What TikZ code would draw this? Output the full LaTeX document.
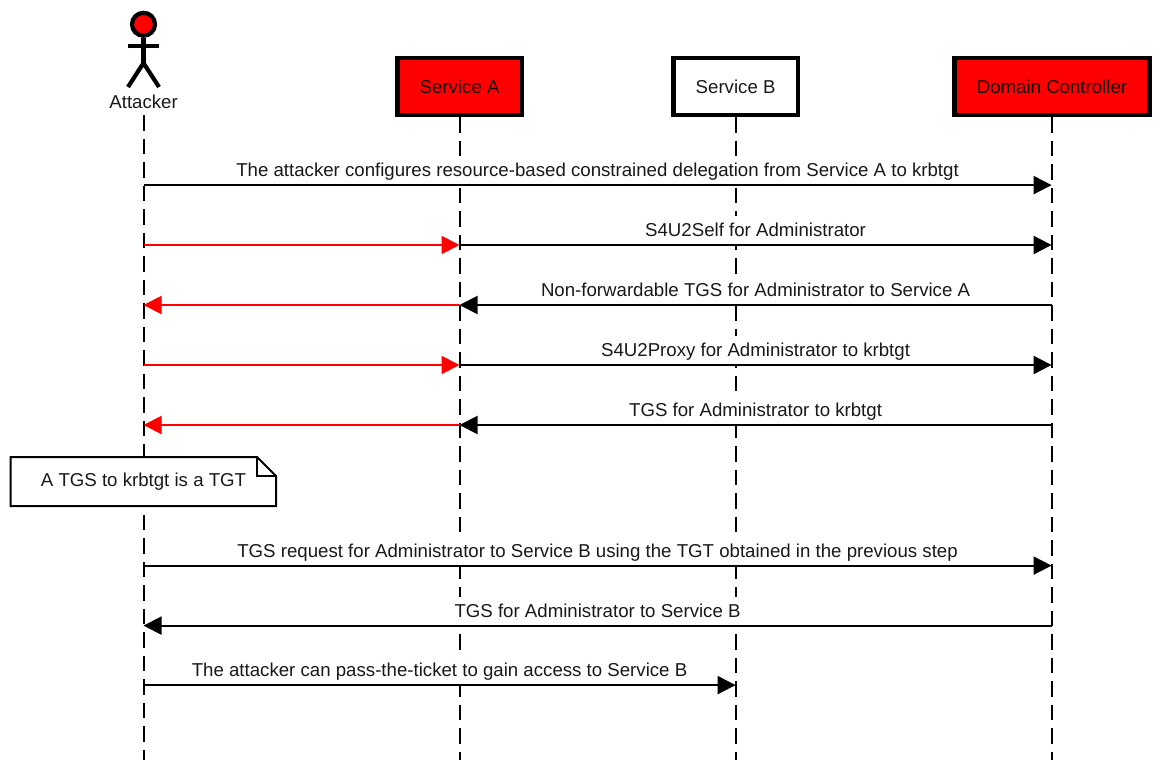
\documentclass[tikz,border=0pt]{standalone}
\usepackage{fontspec}
\setmainfont{Liberation Sans}
\usetikzlibrary{arrows.meta,calc}
\definecolor{hotred}{RGB}{255,0,0}
\tikzset{
  base font/.style={font=\fontsize{18.65}{21}\selectfont},
  lifebox/.style={draw=black,line width=4.5pt,base font,inner sep=0pt,text=black!90,minimum height=56.5pt,text height=14pt,text depth=0pt},
  redbox/.style={lifebox,fill=hotred,text=black!90!red},
  lifeline/.style={line width=2pt,dash pattern=on 15.67pt off 7.83pt},
  msg/.style={line width=2pt,-{Triangle[length=18pt,width=18pt]}},
  redmsg/.style={msg,draw=hotred,-{Triangle[length=18pt,width=18pt,fill=hotred]}},
  msglabel/.style={base font,fill=white,inner sep=0pt,text height=20.4pt,text depth=7.6pt,anchor=south,pos=.5,text=black!90},
  actor/.style={line width=4.2pt,line cap=butt},
  notebox/.style={draw=black,line width=2pt,fill=white,line join=miter}
}
\begin{document}
\begin{tikzpicture}[x=1pt,y=-1pt]
\useasboundingbox[fill=white] (0,0) rectangle (1160,760);

% participants
\node[redbox,minimum width=124.5pt] (svcA) at (459.6,86.5) {Service A};
\node[lifebox,fill=white,minimum width=124.5pt] (svcB) at (735.6,86.5) {Service B};
\node[redbox,minimum width=195pt] (dc) at (1052,86.5) {Domain Controller};
\node[base font,inner sep=0pt,text=black!90,text height=14pt,text depth=4pt] (attacker) at (143.6,103.2) {Attacker};

% bottom ends of lifelines
\coordinate (attackerEnd) at (143.5,760);
\coordinate (svcAEnd) at (459.5,760);
\coordinate (svcBEnd) at (735.6,760);
\coordinate (dcEnd) at (1051.6,760);

% lifelines
\coordinate (attackerTop) at (143.5,115);
\draw[lifeline] (attackerTop) -- (attackerEnd);
\draw[lifeline] (svcA.south -| svcAEnd) -- (svcAEnd);
\draw[lifeline] (svcB.south) -- (svcBEnd);
\draw[lifeline] (dc.south -| dcEnd) -- (dcEnd);

% actor figure
\node[circle,draw=black,fill=hotred,line width=4.2pt,minimum size=23pt,inner sep=0pt] (head) at (143.5,24.3) {};
\coordinate (hip) at (143.5,63);
\coordinate (armL) at (127.7,46);
\coordinate (armR) at (158.8,46);
\coordinate (legL) at (128,87);
\coordinate (legR) at (159,87);
\draw[actor] (head.south) -- (hip);
\draw[actor] (armL) -- (armR);
\draw[actor] (legL) -- (hip) -- (legR);

% row levels
\coordinate (r1) at (0,185.1);
\coordinate (r2) at (0,245);
\coordinate (r3) at (0,305);
\coordinate (r4) at (0,365);
\coordinate (r5) at (0,425);
\coordinate (r6) at (0,565.6);
\coordinate (r7) at (0,625.6);
\coordinate (r8) at (0,685.1);

% messages
\draw[msg] (attackerTop |- r1) -- node[msglabel] {The attacker configures resource-based constrained delegation from Service A to krbtgt} (dcEnd |- r1);

\draw[redmsg] (attackerTop |- r2) -- (svcAEnd |- r2);
\draw[msg] (svcAEnd |- r2) -- node[msglabel] {S4U2Self for Administrator} (dcEnd |- r2);

\draw[msg] (dcEnd |- r3) -- node[msglabel] {Non-forwardable TGS for Administrator to Service A} (svcAEnd |- r3);
\draw[redmsg] (svcAEnd |- r3) -- (attackerTop |- r3);

\draw[redmsg] (attackerTop |- r4) -- (svcAEnd |- r4);
\draw[msg] (svcAEnd |- r4) -- node[msglabel] {S4U2Proxy for Administrator to krbtgt} (dcEnd |- r4);

\draw[msg] (dcEnd |- r5) -- node[msglabel] {TGS for Administrator to krbtgt} (svcAEnd |- r5);
\draw[redmsg] (svcAEnd |- r5) -- (attackerTop |- r5);

\draw[msg] (attackerTop |- r6) -- node[msglabel] {TGS request for Administrator to Service B using the TGT obtained in the previous step} (dcEnd |- r6);
\draw[msg] (dcEnd |- r7) -- node[msglabel] {TGS for Administrator to Service B} (attackerTop |- r7);
\draw[msg] (attackerTop |- r8) -- node[msglabel] {The attacker can pass-the-ticket to gain access to Service B} (svcBEnd |- r8);

% note
\draw[notebox] (10.5,457) -- (257,457) -- (276,476) -- (276,506) -- (10.5,506) -- cycle;
\draw[line width=2pt] (257,457) -- (257,476) -- (276,476);
\node[base font,inner sep=0pt,text=black!90,text height=14pt,text depth=4pt] (note) at (143.5,481.5) {A TGS to krbtgt is a TGT};
\end{tikzpicture}
\end{document}
